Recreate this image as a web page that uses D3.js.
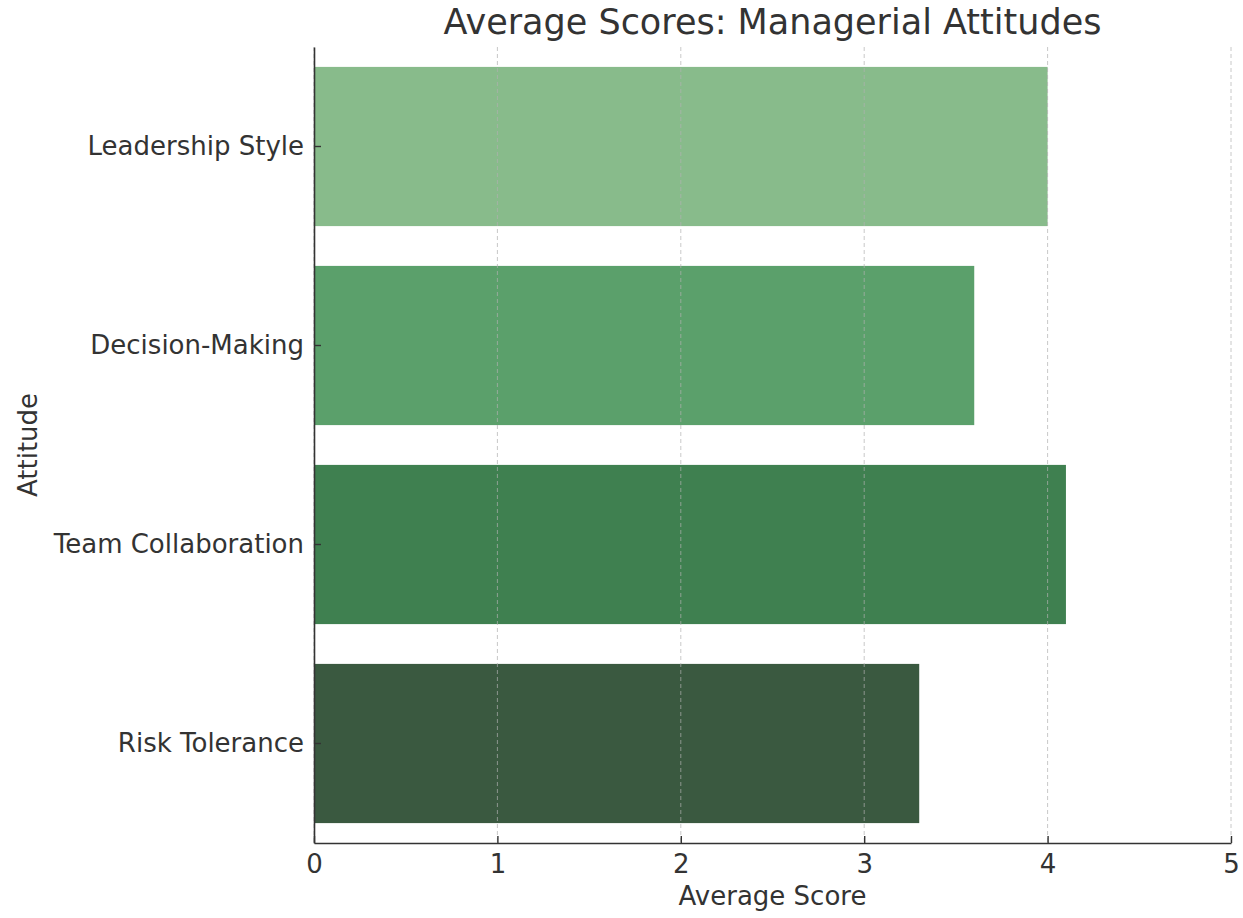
<!DOCTYPE html>
<html>
<head>
<meta charset="utf-8">
<script src="https://cdn.jsdelivr.net/npm/d3@7"></script>
<style>
  html, body { margin: 0; padding: 0; background: #ffffff; }
  svg { display: block; }
  text { font-family: "DejaVu Sans", sans-serif; fill: #333333; }
</style>
</head>
<body>
<svg id="chart" width="1243" height="918"></svg>
<script>
// Average score per managerial attitude
const categories = ["Leadership Style", "Decision-Making", "Team Collaboration", "Risk Tolerance"];
const scores = [4.0, 3.6, 4.1, 3.3];
const barColors = ["#88bb8b", "#5ba06b", "#3f8050", "#3a5940"];
const xTicks = [0, 1, 2, 3, 4, 5];

const titleText = "Average Scores: Managerial Attitudes";
const xLabel = "Average Score";
const yLabel = "Attitude";

const margin = { top: 47, right: 12, bottom: 75, left: 314 };
const width = 1243, height = 918;
const innerW = width - margin.left - margin.right;
const innerH = height - margin.top - margin.bottom;
const textColor = "#333333";

const svg = d3.select("#chart");
const g = svg.append("g").attr("transform", `translate(${margin.left},${margin.top})`);

const x = d3.scaleLinear().domain([0, 5]).range([0, innerW]);
const y = d3.scaleBand().domain(categories).range([0, innerH])
  .paddingInner(0.2).paddingOuter(0.1);

// bars
g.selectAll("rect.bar")
  .data(categories)
  .join("rect")
  .attr("class", "bar")
  .attr("x", x(0))
  .attr("y", d => y(d))
  .attr("width", (d, i) => x(scores[i]) - x(0))
  .attr("height", y.bandwidth())
  .attr("fill", (d, i) => barColors[i]);

// vertical dashed grid, drawn over the bars
g.append("g")
  .selectAll("line")
  .data(xTicks)
  .join("line")
  .attr("x1", d => x(d)).attr("x2", d => x(d))
  .attr("y1", 0).attr("y2", innerH)
  .attr("stroke", "#b0b0b0")
  .attr("stroke-opacity", 0.7)
  .attr("stroke-width", 1)
  .attr("stroke-dasharray", "4,3");

// x axis
const xAxis = g.append("g")
  .attr("transform", `translate(0,${innerH})`)
  .call(d3.axisBottom(x).tickValues(xTicks).tickFormat(d3.format("d"))
    .tickSizeInner(-7).tickSizeOuter(0).tickPadding(12));
xAxis.select(".domain").attr("stroke", textColor).attr("stroke-width", 1.6);
xAxis.selectAll(".tick line").attr("stroke", textColor).attr("stroke-width", 1.4);
xAxis.selectAll(".tick text").attr("font-size", 26).attr("fill", textColor);

// y axis
const yAxis = g.append("g")
  .call(d3.axisLeft(y).tickSizeInner(-7).tickSizeOuter(0).tickPadding(10));
yAxis.select(".domain").attr("stroke", textColor).attr("stroke-width", 1.6);
yAxis.selectAll(".tick line").attr("stroke", textColor).attr("stroke-width", 1.4);
yAxis.selectAll(".tick text").attr("font-size", 26).attr("fill", textColor);

// title and axis labels
svg.append("text")
  .attr("x", margin.left + innerW / 2)
  .attr("y", 34)
  .attr("text-anchor", "middle")
  .attr("font-size", 35)
  .text(titleText);

svg.append("text")
  .attr("x", margin.left + innerW / 2)
  .attr("y", 905)
  .attr("text-anchor", "middle")
  .attr("font-size", 26)
  .text(xLabel);

svg.append("text")
  .attr("transform", `translate(37,${margin.top + innerH / 2}) rotate(-90)`)
  .attr("text-anchor", "middle")
  .attr("font-size", 26)
  .text(yLabel);
</script>
</body>
</html>
